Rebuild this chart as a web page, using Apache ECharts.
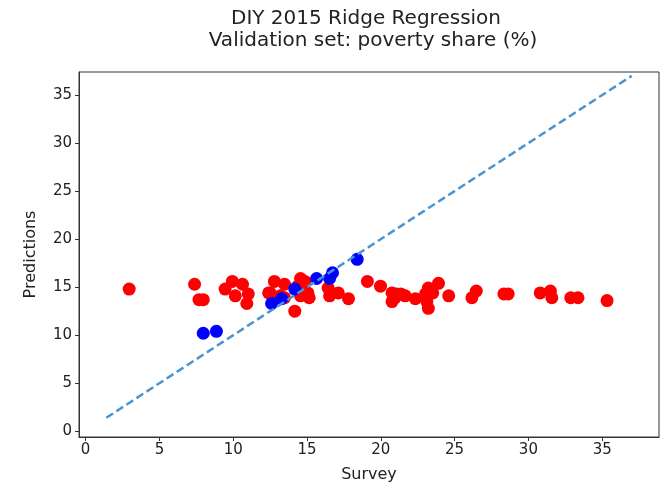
<!DOCTYPE html>
<html>
<head>
<meta charset="utf-8">
<script src="https://cdn.jsdelivr.net/npm/echarts@6/dist/echarts.min.js"></script>
<style>
  html, body { margin: 0; padding: 0; background: #fff; }
  #chart { width: 664px; height: 487px; }
</style>
</head>
<body>
<div id="chart"></div>
<script>
// red: survey vs predictions (main group)
const redPoints = [
  [2.95, 14.8], [7.38, 15.3], [7.68, 13.7], [7.97, 13.7], [9.45, 14.8],
  [9.94, 15.6], [10.63, 15.3], [10.14, 14.1], [11.02, 14.3], [10.92, 13.3],
  [12.5, 14.4], [12.79, 15.6], [13.48, 15.3], [12.4, 14.4], [12.69, 13.9],
  [13.19, 14.1], [13.48, 13.9], [14.56, 15.9], [14.86, 15.6], [14.37, 15.1],
  [15.06, 14.4], [14.56, 14.1], [15.15, 13.9], [14.17, 12.5], [16.43, 14.9],
  [16.53, 14.1], [17.12, 14.4], [17.81, 13.8], [19.09, 15.6], [19.98, 15.1],
  [20.76, 14.4], [21.06, 14.3], [20.76, 13.5], [20.96, 13.9], [21.35, 14.3],
  [21.65, 14.1], [22.34, 13.8], [23.03, 14.3], [23.22, 14.9], [23.91, 15.4],
  [23.52, 14.4], [23.12, 13.5], [23.22, 12.8], [24.6, 14.1], [26.47, 14.6],
  [26.17, 13.9], [28.34, 14.3], [28.63, 14.3], [30.8, 14.4], [31.49, 14.6],
  [31.59, 13.9], [32.87, 13.9], [33.36, 13.9], [35.33, 13.6]
];
// blue: points close to the diagonal
const bluePoints = [
  [7.97, 10.2], [8.86, 10.4], [12.6, 13.3], [13.28, 13.8], [14.17, 14.8],
  [15.65, 15.9], [16.53, 15.9], [16.73, 16.5], [18.4, 17.9]
];
const diagonal = [[1.4, 1.4], [37.0, 37.0]];
const xTicks = [0, 5, 10, 15, 20, 25, 30, 35];
const yTicks = [0, 5, 10, 15, 20, 25, 30, 35];

const font = "DejaVu Sans";
const chart = echarts.init(document.getElementById("chart"));

const axisCommon = {
  axisLine: { show: true, onZero: false, lineStyle: { color: "#333", width: 1 } },
  axisTick: { show: true, inside: false, length: 4, lineStyle: { color: "#333" } },
  splitLine: { show: false },
  nameTextStyle: { fontFamily: font, fontSize: 16, color: "#222" },
};

const titleStyle = { fontFamily: font, fontSize: 20, fontWeight: "normal", color: "#222" };

chart.setOption({
  animation: false,
  title: [
    { text: "DIY 2015 Ridge Regression", left: 361, top: 4, textAlign: "center", textStyle: titleStyle },
    { text: "Validation set: poverty share (%)", left: 368, top: 26, textAlign: "center", textStyle: titleStyle },
  ],
  grid: {
    left: 79, right: 5, top: 72, bottom: 50,
    outerBoundsMode: "none",
    show: true, borderColor: "#333", borderWidth: 1,
  },
  xAxis: Object.assign({}, axisCommon, {
    type: "value",
    min: -0.45,
    max: 38.85,
    name: "Survey",
    nameLocation: "middle",
    nameGap: 30,
    axisTick: Object.assign({}, axisCommon.axisTick, { customValues: xTicks }),
    axisLabel: { customValues: xTicks, fontFamily: font, fontSize: 15, color: "#222", margin: 6 },
  }),
  yAxis: Object.assign({}, axisCommon, {
    type: "value",
    min: -0.6,
    max: 37.4,
    name: "Predictions",
    nameLocation: "middle",
    nameGap: 40,
    axisTick: Object.assign({}, axisCommon.axisTick, { customValues: yTicks }),
    axisLabel: { customValues: yTicks, fontFamily: font, fontSize: 15, color: "#222", margin: 7 },
  }),
  series: [
    {
      type: "scatter",
      data: redPoints,
      symbolSize: 13,
      itemStyle: { color: "#ff0000", opacity: 1 },
      z: 2,
    },
    {
      type: "scatter",
      data: bluePoints,
      symbolSize: 13,
      itemStyle: { color: "#0000ff", opacity: 1 },
      z: 3,
    },
    {
      type: "line",
      data: diagonal,
      symbol: "none",
      lineStyle: { color: "#4a94cf", width: 2.5, type: [8, 4] },
      z: 4,
    },
  ],
});
</script>
</body>
</html>
